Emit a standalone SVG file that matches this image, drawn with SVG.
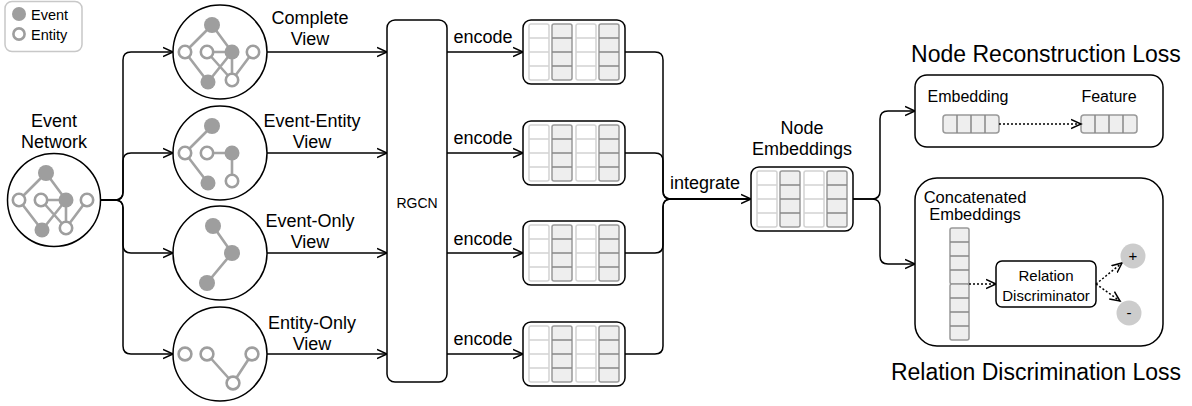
<svg xmlns="http://www.w3.org/2000/svg" xmlns:xlink="http://www.w3.org/1999/xlink" width="1192" height="406" viewBox="0 0 1192 406">
<style>
text{font-family:"Liberation Sans",Arial,sans-serif;fill:#000}
.t18{font-size:18px;text-anchor:middle}
.t16{font-size:16px;text-anchor:middle}
.t23{font-size:23px;text-anchor:middle}
.ln{fill:none;stroke:#000;stroke-width:1.5}
.dot{fill:none;stroke:#000;stroke-width:1.5;stroke-dasharray:2 2}
.box{fill:#fff;stroke:#000;stroke-width:1.5}
.ge{stroke:#a3a3a3;stroke-width:2.6;fill:none}
.ev{fill:#9e9e9e}
.en{fill:#fff;stroke:#9e9e9e;stroke-width:2.6}
.big{fill:#fff;stroke:#000;stroke-width:1.5}
.cl{fill:#fff;stroke:#d2d2d2;stroke-width:1.5}
.cd{fill:#eee;stroke:#999;stroke-width:1.5}
.cll{stroke:#d2d2d2;stroke-width:1.5}
.cdl{stroke:#888;stroke-width:1.5}
</style>
<defs>
<marker id="arr" markerWidth="12" markerHeight="12" refX="10" refY="5" orient="auto" markerUnits="userSpaceOnUse" viewBox="0 0 12 10">
<path d="M0,0.5 L10,5 L0,9.5" fill="none" stroke="#000" stroke-width="1.5"/>
</marker>
<g id="mat">
<rect x="0" y="0" width="102" height="64" rx="8" class="box"/>
<rect x="6" y="4" width="20" height="56" rx="2" class="cl"/>
<path d="M6,18H26M6,32H26M6,46H26" class="cll"/>
<rect x="29" y="4" width="20" height="56" rx="2" class="cd"/>
<path d="M29,18H49M29,32H49M29,46H49" class="cdl"/>
<rect x="53" y="4" width="20" height="56" rx="2" class="cl"/>
<path d="M53,18H73M53,32H73M53,46H73" class="cll"/>
<rect x="76" y="4" width="20" height="56" rx="2" class="cd"/>
<path d="M76,18H96M76,32H96M76,46H96" class="cdl"/>
</g>
<g id="full">
<path class="ge" d="M-8,-27L-35,0M-8,-27L12,0M-13,0L12,0M-35,0L-12,30M12,0L-12,30M12,0L12,28M-13,0L12,28M33,0L12,28"/>
<circle cx="-8" cy="-27" r="8" class="ev"/>
<circle cx="-35" cy="0" r="6.2" class="en"/>
<circle cx="-13" cy="0" r="6.2" class="en"/>
<circle cx="12" cy="0" r="7.5" class="ev"/>
<circle cx="33" cy="0" r="6.2" class="en"/>
<circle cx="-12" cy="30" r="7.5" class="ev"/>
<circle cx="12" cy="28" r="6.2" class="en"/>
</g>
</defs>

<g id="legend">
<rect x="5" y="1.5" width="77" height="50" rx="7" fill="#fff" stroke="#c8c8c8" stroke-width="1.5"/>
<circle cx="19" cy="14" r="7" class="ev"/>
<circle cx="19" cy="34" r="5.6" class="en"/>
<text x="31" y="19.5" font-size="14.5">Event</text>
<text x="31" y="40" font-size="14.5">Entity</text>
</g>

<g id="connectors">
<path class="ln" marker-end="url(#arr)" d="M100,200H115Q123,200 123,192V60Q123,52 131,52H173"/>
<path class="ln" marker-end="url(#arr)" d="M100,200H115Q123,200 123,192V161Q123,153 131,153H173"/>
<path class="ln" marker-end="url(#arr)" d="M100,200H115Q123,200 123,208V245Q123,253 131,253H173"/>
<path class="ln" marker-end="url(#arr)" d="M100,200H115Q123,200 123,208V346Q123,354 131,354H173"/>
<path class="ln" marker-end="url(#arr)" d="M267,52H387"/>
<path class="ln" marker-end="url(#arr)" d="M267,153H387"/>
<path class="ln" marker-end="url(#arr)" d="M267,253H387"/>
<path class="ln" marker-end="url(#arr)" d="M267,354H387"/>
<path class="ln" marker-end="url(#arr)" d="M447,52H523"/>
<path class="ln" marker-end="url(#arr)" d="M447,153H523"/>
<path class="ln" marker-end="url(#arr)" d="M447,253H523"/>
<path class="ln" marker-end="url(#arr)" d="M447,354H523"/>
<path class="ln" d="M625,52H655Q663,52 663,60V191Q663,199 671,199H751"/>
<path class="ln" d="M625,153H655Q663,153 663,161V191Q663,199 671,199H751"/>
<path class="ln" d="M625,253H655Q663,253 663,245V207Q663,199 671,199H751"/>
<path class="ln" marker-end="url(#arr)" d="M625,354H655Q663,354 663,346V207Q663,199 671,199H751"/>
<path class="ln" marker-end="url(#arr)" d="M853,199H872Q880,199 880,191V119Q880,111 888,111H915"/>
<path class="ln" marker-end="url(#arr)" d="M853,199H872Q880,199 880,207V256Q880,264 888,264H915"/>
<text x="483" y="43" font-size="18" text-anchor="middle">encode</text>
<text x="483" y="144" font-size="18" text-anchor="middle">encode</text>
<text x="483" y="245" font-size="18" text-anchor="middle">encode</text>
<text x="483" y="345" font-size="18" text-anchor="middle">encode</text>
<text x="670" y="189" font-size="18">integrate</text>
<text class="t18" x="310" y="24">Complete</text>
<text class="t18" x="310" y="45">View</text>
<text class="t18" x="312" y="127">Event-Entity</text>
<text class="t18" x="312" y="148">View</text>
<text class="t18" x="310" y="227">Event-Only</text>
<text class="t18" x="310" y="248">View</text>
<text class="t18" x="312" y="329">Entity-Only</text>
<text class="t18" x="312" y="350">View</text>
</g>

<g id="event-network">
<text class="t18" x="54" y="127">Event</text>
<text class="t18" x="54" y="148">Network</text>
<circle cx="54" cy="200" r="46.5" class="big"/>
<use xlink:href="#full" transform="translate(54,200)"/>
</g>

<g id="complete-view">
<circle cx="220" cy="52" r="47" class="big"/>
<use xlink:href="#full" transform="translate(220,52)"/>
</g>

<g id="event-entity-view">
<circle cx="220" cy="153" r="47" class="big"/>
<g transform="translate(220,153)">
<path class="ge" d="M-8,-27L-35,0M-13,0L12,0M-35,0L-12,30M12,0L12,28"/>
<circle cx="-8" cy="-27" r="8" class="ev"/>
<circle cx="-35" cy="0" r="6.2" class="en"/>
<circle cx="-13" cy="0" r="6.2" class="en"/>
<circle cx="12" cy="0" r="7.5" class="ev"/>
<circle cx="-12" cy="30" r="7.5" class="ev"/>
<circle cx="12" cy="28" r="6.2" class="en"/>
</g>
</g>

<g id="event-only-view">
<circle cx="220" cy="253" r="47" class="big"/>
<g transform="translate(220,253)">
<path class="ge" d="M-7,-27L12,0M12,0L-13,30"/>
<circle cx="-7" cy="-27" r="8" class="ev"/>
<circle cx="12" cy="0" r="8" class="ev"/>
<circle cx="-13" cy="30" r="8" class="ev"/>
</g>
</g>

<g id="entity-only-view">
<circle cx="220" cy="354" r="47" class="big"/>
<g transform="translate(220,354)">
<path class="ge" d="M-13,0L13,29M32,0L13,29"/>
<circle cx="-35" cy="0" r="6.4" class="en"/>
<circle cx="-13" cy="0" r="6.4" class="en"/>
<circle cx="32" cy="0" r="6.4" class="en"/>
<circle cx="13" cy="29" r="6.4" class="en"/>
</g>
</g>

<g id="rgcn">
<rect x="387" y="20" width="60" height="362" rx="8" class="box"/>
<text x="417" y="208" font-size="14" text-anchor="middle">RGCN</text>
</g>

<g id="emb1"><use xlink:href="#mat" transform="translate(523,20)"/></g>
<g id="emb2"><use xlink:href="#mat" transform="translate(523,121)"/></g>
<g id="emb3"><use xlink:href="#mat" transform="translate(523,221)"/></g>
<g id="emb4"><use xlink:href="#mat" transform="translate(523,322)"/></g>

<g id="node-embeddings">
<text class="t18" x="802" y="134">Node</text>
<text class="t18" x="802" y="155">Embeddings</text>
<use xlink:href="#mat" transform="translate(751,167)"/>
</g>

<g id="node-reconstruction">
<text class="t23" x="1046" y="62">Node Reconstruction Loss</text>
<rect x="915" y="75" width="248" height="72" rx="12" class="box"/>
<text class="t16" x="968" y="102">Embedding</text>
<text class="t16" x="1109" y="102">Feature</text>
<rect x="943" y="115" width="56" height="18" rx="3" class="cd"/>
<path d="M957,115V133M971,115V133M985,115V133" class="cdl"/>
<rect x="1081" y="115" width="56" height="18" rx="3" class="cd"/>
<path d="M1095,115V133M1109,115V133M1123,115V133" class="cdl"/>
<path class="dot" marker-end="url(#arr)" d="M999,124H1081"/>
</g>

<g id="relation-discrimination">
<rect x="915" y="178" width="248" height="168" rx="22" class="box"/>
<text x="975" y="203" font-size="16.5" text-anchor="middle">Concatenated</text>
<text x="975" y="220" font-size="16.5" text-anchor="middle">Embeddings</text>
<rect x="950" y="228" width="19" height="56" rx="2" class="cd"/>
<path d="M950,242H969M950,256H969M950,270H969" class="cdl"/>
<rect x="950" y="284" width="19" height="56" rx="2" class="cd"/>
<path d="M950,298H969M950,312H969M950,326H969" class="cdl"/>
<path class="dot" marker-end="url(#arr)" d="M969,284H996"/>
<rect x="996" y="261" width="100" height="46" rx="6" class="box"/>
<text x="1046" y="281" font-size="15" text-anchor="middle">Relation</text>
<text x="1046" y="301" font-size="15" text-anchor="middle">Discriminator</text>
<path class="dot" marker-end="url(#arr)" d="M1096,284L1122,263"/>
<path class="dot" marker-end="url(#arr)" d="M1096,284L1120,301"/>
<circle cx="1133" cy="256" r="12.5" fill="#ccc"/>
<circle cx="1129" cy="313" r="12.5" fill="#ccc"/>
<text x="1133" y="261" font-size="15" text-anchor="middle">+</text>
<text x="1129" y="318" font-size="15" text-anchor="middle">-</text>
<text class="t23" x="1036" y="380">Relation Discrimination Loss</text>
</g>
</svg>
